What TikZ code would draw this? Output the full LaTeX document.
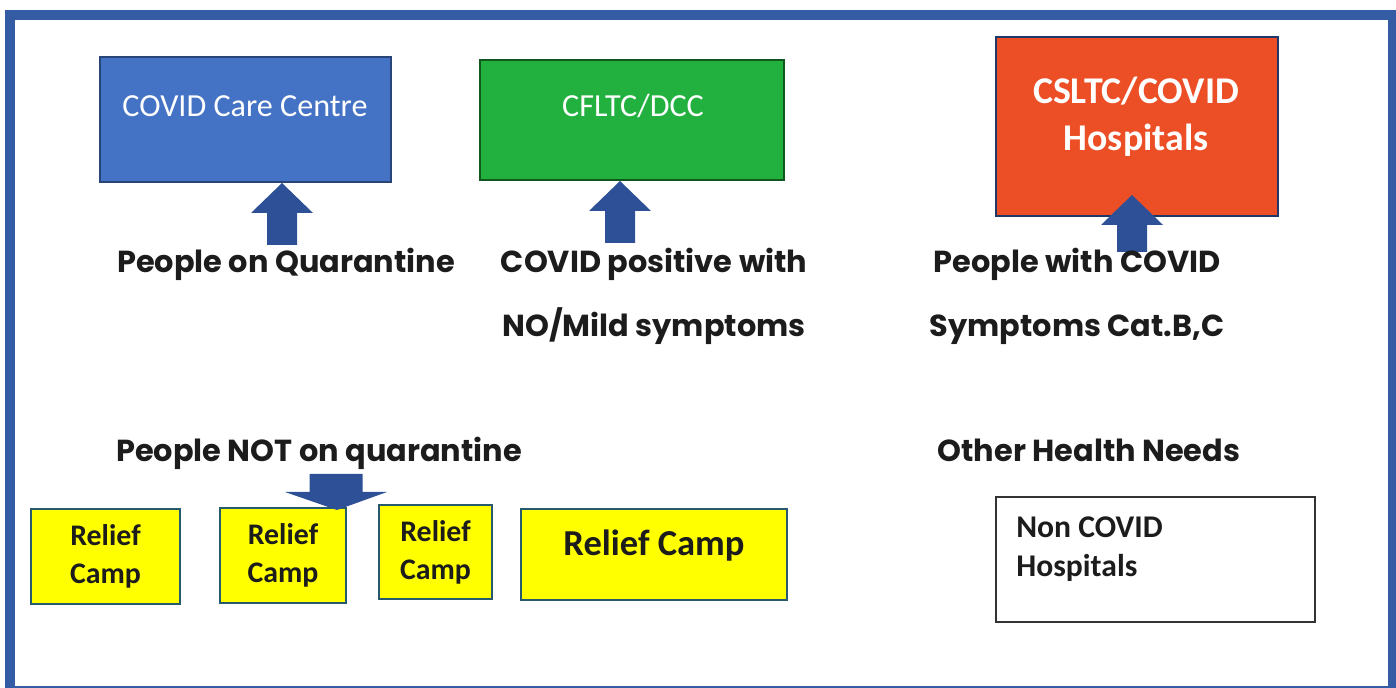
\documentclass[tikz,border=0pt]{standalone}
\usepackage{fontspec}
\setmainfont{Carlito}
\newfontfamily\gothic{Poppins}
\definecolor{frameblue}{RGB}{52,92,165}
\definecolor{careblue}{RGB}{68,114,196}
\definecolor{cfltcgreen}{RGB}{34,177,62}
\definecolor{csltred}{RGB}{236,78,38}
\definecolor{campyellow}{RGB}{255,255,0}
\definecolor{campedge}{RGB}{40,90,110}
\definecolor{arrowblue}{RGB}{46,80,150}
\definecolor{captiongray}{RGB}{28,28,28}

\begin{document}
\begin{tikzpicture}[x=0.02cm, y=-0.02cm,
    bigbox/.style={line width=0.9pt, inner sep=0pt},
    campbox/.style={draw=campedge, fill=campyellow, line width=1.3pt, inner sep=0pt,
        align=center, text=captiongray, font=\bfseries\fontsize{17}{21.5}\selectfont},
    caption/.style={text=captiongray, align=center, font=\gothic\bfseries\fontsize{17.3}{36.5}\selectfont},
    boxtext/.style={text=white, align=center, inner sep=0pt}]
    \useasboundingbox (0,0) rectangle (1396,688);
    \draw[frameblue, line width=6.2pt] (10,15) rectangle (1393,691);

    % top row
    \node[bigbox, fill=careblue, draw=careblue!60!black, minimum width=5.82cm, minimum height=2.5cm] (care) at (245.5,119.5) {};
    \node[bigbox, fill=cfltcgreen, draw=cfltcgreen!50!black, minimum width=6.08cm, minimum height=2.4cm] (cfltc) at (632,120) {};
    \node[bigbox, fill=csltred, draw=arrowblue!70!black, minimum width=5.64cm, minimum height=3.58cm] (cslt) at (1137,126.5) {};
    \node[boxtext, anchor=base, font=\fontsize{18.3}{22}\selectfont] (caretxt) at (245,117) {COVID Care Centre};
    \node[boxtext, anchor=base, font=\fontsize{18.3}{22}\selectfont] (cfltctxt) at (633,117) {CFLTC/DCC};
    \node[boxtext, font=\bfseries\fontsize{21.5}{27}\selectfont] (cslttxt) at (1136,117) {CSLTC/COVID\\Hospitals};

    \foreach \x/\yt/\yb in {282/183/245, 620/181/243, 1132/195/252}
    {
        \fill[arrowblue] (\x-15,\yb) -- (\x-15,\yt+30) -- (\x-31,\yt+30) -- (\x,\yt)
            -- (\x+31,\yt+30) -- (\x+15,\yt+30) -- (\x+15,\yb) -- cycle;
    }

    \node[caption, anchor=base] (quar) at (286,273) {People on Quarantine};
    \node[caption] (pos) at (654,296) {COVID positive with\\NO/Mild symptoms};
    \node[caption] (sym) at (1077,296) {People with COVID\\Symptoms Cat.B,C};
    \node[caption, anchor=base] (notq) at (319,462) {People NOT on quarantine};
    \node[caption, anchor=base] (other) at (1089,462) {Other Health Needs};

    % relief camps
    \foreach \n/\x/\y/\w/\h in {1/105.5/556.5/2.98/1.9, 2/283/555.5/2.52/1.9, 3/435.5/552/2.26/1.88}
    {
        \node[campbox, minimum width=\w cm, minimum height=\h cm] (camp\n) at (\x,\y) {Relief\\Camp};
    }
    \node[campbox, minimum width=5.32cm, minimum height=1.82cm] (camp4) at (654,554.5) {};
    \node[text=captiongray, anchor=base, font=\bfseries\fontsize{20.8}{24}\selectfont] (camp4txt) at (654,556) {Relief Camp};
    \fill[arrowblue] (309.5,474) -- (309.5,492) -- (285,492) -- (337,510) -- (387,492)
        -- (362.5,492) -- (362.5,474) -- cycle;

    \node[bigbox, fill=white, draw=black!80, minimum width=6.38cm, minimum height=2.5cm] (noncovid) at (1155.5,559.5) {};
    \node[anchor=north west, inner sep=0pt, align=left, text=captiongray,
        font=\bfseries\fontsize{18}{22.7}\selectfont] (noncovidtxt) at (1016,516) {Non COVID\\Hospitals};
\end{tikzpicture}
\end{document}
